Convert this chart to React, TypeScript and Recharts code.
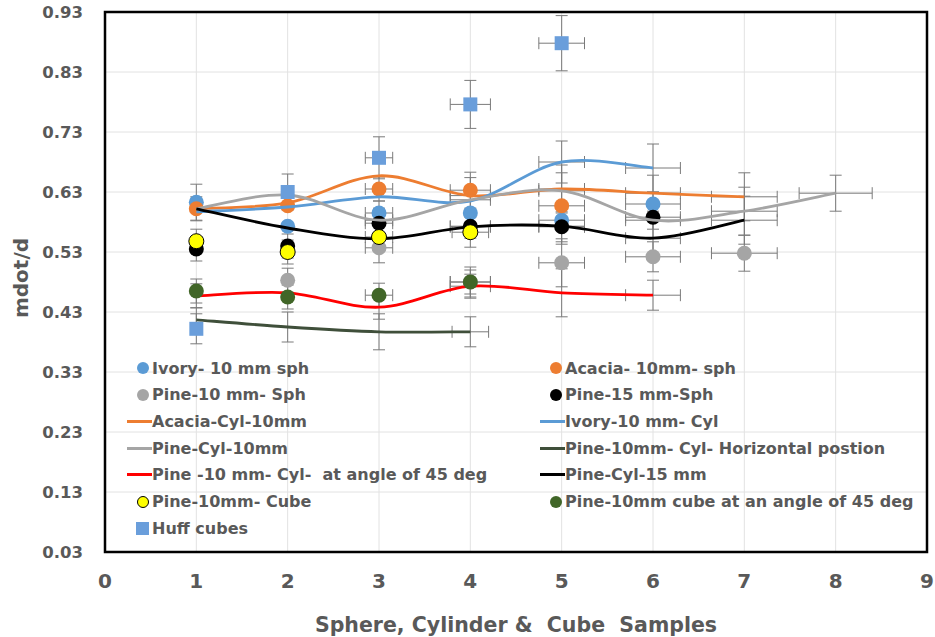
import React from 'react';
import {
  ScatterChart,
  Scatter,
  XAxis,
  YAxis,
  CartesianGrid,
  ErrorBar,
  Legend,
  ReferenceArea,
  Label,
} from 'recharts';

// ---------- axis ticks ----------
const xTicks = [0, 1, 2, 3, 4, 5, 6, 7, 8, 9];
const yTicks = [0.03, 0.13, 0.23, 0.33, 0.43, 0.53, 0.63, 0.73, 0.83, 0.93];

// ---------- marker (point) series ----------
const ivorySphX = [1, 2, 3, 4, 5, 6];
const ivorySphY = [0.613, 0.573, 0.595, 0.595, 0.583, 0.61];
const ivorySphEx = [0, 0, 0.15, 0, 0.25, 0.3];
const ivorySphEy = [0.03, 0, 0.02, 0, 0, 0.02];

const acaciaSphX = [1, 2, 3, 4, 5];
const acaciaSphY = [0.602, 0.607, 0.635, 0.633, 0.607];
const acaciaSphEx = [0, 0, 0.15, 0.22, 0.25];
const acaciaSphEy = [0.02, 0, 0.02, 0.03, 0];

const pine10SphX = [2, 3, 4, 5, 6, 7];
const pine10SphY = [0.483, 0.537, 0.48, 0.512, 0.522, 0.528];
const pine10SphEx = [0, 0.15, 0.22, 0.25, 0.3, 0.36];
const pine10SphEy = [0.02, 0.025, 0.02, 0.04, 0.025, 0.03];

const pine15SphX = [1, 2, 3, 4, 5, 6];
const pine15SphY = [0.535, 0.54, 0.578, 0.573, 0.572, 0.588];
const pine15SphEx = [0, 0, 0.15, 0.22, 0.25, 0.3];
const pine15SphEy = [0.02, 0.02, 0.02, 0.02, 0.025, 0.02];

const pineCubeX = [1, 2, 3, 4];
const pineCubeY = [0.548, 0.53, 0.555, 0.563];
const pineCubeEx = [0, 0, 0.15, 0.2];
const pineCubeEy = [0.02, 0.02, 0.02, 0.025];

const pineCube45X = [1, 2, 3, 4];
const pineCube45Y = [0.465, 0.455, 0.458, 0.48];
const pineCube45Ex = [0, 0, 0.15, 0.22];
const pineCube45Ey = [0.02, 0.02, 0.02, 0.025];

const huffX = [1, 2, 3, 4, 5];
const huffY = [0.402, 0.63, 0.687, 0.776, 0.878];
const huffEx = [0, 0, 0.15, 0.22, 0.25];
const huffEy = [0.025, 0.03, 0.035, 0.04, 0.046];

// ---------- smoothed line series ----------
const acaciaCylX = [1, 2, 3, 4, 5, 6, 7];
const acaciaCylY = [0.602, 0.612, 0.657, 0.624, 0.635, 0.628, 0.622];
const acaciaCylEx = [0, 0, 0, 0.22, 0.25, 0.3, 0.36];
const acaciaCylEy = [0, 0, 0, 0.03, 0.04, 0.03, 0.04];

const ivoryCylX = [1, 2, 3, 4, 5, 6];
const ivoryCylY = [0.597, 0.605, 0.622, 0.615, 0.68, 0.67];
const ivoryCylEx = [0, 0, 0, 0, 0.25, 0.3];
const ivoryCylEy = [0, 0, 0, 0, 0.035, 0.04];

const pineCyl10X = [1, 2, 3, 4, 5, 6, 7, 8];
const pineCyl10Y = [0.602, 0.625, 0.583, 0.617, 0.632, 0.583, 0.598, 0.628];
const pineCyl10Ex = [0, 0, 0.15, 0.22, 0.25, 0.3, 0.36, 0.4];
const pineCyl10Ey = [0, 0, 0.02, 0, 0.03, 0.03, 0.04, 0.03];

const pineHorizX = [1, 2, 3, 4];
const pineHorizY = [0.417, 0.405, 0.397, 0.397];
const pineHorizEx = [0, 0, 0, 0.2];
const pineHorizEy = [0.02, 0.025, 0.03, 0.025];

const pineCyl45X = [1, 2, 3, 4, 5, 6];
const pineCyl45Y = [0.457, 0.462, 0.438, 0.473, 0.462, 0.458];
const pineCyl45Ex = [0, 0, 0, 0.22, 0, 0.3];
const pineCyl45Ey = [0.02, 0, 0.02, 0.02, 0.04, 0.025];

const pineCyl15X = [1, 2, 3, 4, 5, 6, 7];
const pineCyl15Y = [0.602, 0.57, 0.552, 0.572, 0.573, 0.553, 0.583];
const pineCyl15Ex = [0, 0, 0, 0.22, 0.25, 0.3, 0.36];
const pineCyl15Ey = [0, 0, 0, 0, 0.03, 0.03, 0.04];

// ---------- helpers ----------
type Pt = { x: number; y: number; ex: number; ey: number };
const zip = (xs: number[], ys: number[], ex: number[], ey: number[]): Pt[] =>
  xs.map((x, i) => ({ x, y: ys[i], ex: ex[i], ey: ey[i] }));

// Excel-like smoothing (Catmull-Rom as cubic Bezier)
const excelCurve: any = (context: any) => {
  let pts: number[][] = [];
  return {
    areaStart() {},
    areaEnd() {},
    lineStart() {
      pts = [];
    },
    point(x: number, y: number) {
      pts.push([+x, +y]);
    },
    lineEnd() {
      const n = pts.length;
      if (n === 0) return;
      context.moveTo(pts[0][0], pts[0][1]);
      for (let i = 0; i < n - 1; i++) {
        const p0 = pts[Math.max(0, i - 1)];
        const p1 = pts[i];
        const p2 = pts[i + 1];
        const p3 = pts[Math.min(n - 1, i + 2)];
        context.bezierCurveTo(
          p1[0] + (p2[0] - p0[0]) / 6,
          p1[1] + (p2[1] - p0[1]) / 6,
          p2[0] - (p3[0] - p1[0]) / 6,
          p2[1] - (p3[1] - p1[1]) / 6,
          p2[0],
          p2[1]
        );
      }
    },
  };
};

type Series = {
  name: string;
  kind: 'circle' | 'square' | 'line';
  color: string;
  stroke?: string;
  data: Pt[];
};

const series: Series[] = [
  { name: 'Ivory- 10 mm sph', kind: 'circle', color: '#5B9BD5', data: zip(ivorySphX, ivorySphY, ivorySphEx, ivorySphEy) },
  { name: 'Acacia- 10mm- sph', kind: 'circle', color: '#ED7D31', data: zip(acaciaSphX, acaciaSphY, acaciaSphEx, acaciaSphEy) },
  { name: 'Pine-10 mm- Sph', kind: 'circle', color: '#A5A5A5', data: zip(pine10SphX, pine10SphY, pine10SphEx, pine10SphEy) },
  { name: 'Pine-15 mm-Sph', kind: 'circle', color: '#000000', data: zip(pine15SphX, pine15SphY, pine15SphEx, pine15SphEy) },
  { name: 'Acacia-Cyl-10mm', kind: 'line', color: '#ED7D31', data: zip(acaciaCylX, acaciaCylY, acaciaCylEx, acaciaCylEy) },
  { name: 'Ivory-10 mm- Cyl', kind: 'line', color: '#5B9BD5', data: zip(ivoryCylX, ivoryCylY, ivoryCylEx, ivoryCylEy) },
  { name: 'Pine-Cyl-10mm', kind: 'line', color: '#A5A5A5', data: zip(pineCyl10X, pineCyl10Y, pineCyl10Ex, pineCyl10Ey) },
  { name: 'Pine-10mm- Cyl- Horizontal postion', kind: 'line', color: '#3F4F3A', data: zip(pineHorizX, pineHorizY, pineHorizEx, pineHorizEy) },
  { name: 'Pine -10 mm- Cyl-  at angle of 45 deg', kind: 'line', color: '#FF0000', data: zip(pineCyl45X, pineCyl45Y, pineCyl45Ex, pineCyl45Ey) },
  { name: 'Pine-Cyl-15 mm', kind: 'line', color: '#000000', data: zip(pineCyl15X, pineCyl15Y, pineCyl15Ex, pineCyl15Ey) },
  { name: 'Pine-10mm- Cube', kind: 'circle', color: '#FFFF00', stroke: '#000000', data: zip(pineCubeX, pineCubeY, pineCubeEx, pineCubeEy) },
  { name: 'Pine-10mm cube at an angle of 45 deg', kind: 'circle', color: '#416628', data: zip(pineCube45X, pineCube45Y, pineCube45Ex, pineCube45Ey) },
  { name: 'Huff cubes', kind: 'square', color: '#6A9EDB', data: zip(huffX, huffY, huffEx, huffEy) },
];

const FONT = "'DejaVu Sans', sans-serif";
const TEXT = '#595959';
const ERR = '#7A7A7A';

const makeShape = (s: Series) => {
  if (s.kind === 'line') return () => <g />;
  if (s.kind === 'square')
    return (p: any) => <rect x={p.cx - 7} y={p.cy - 7} width={14} height={14} fill={s.color} />;
  return (p: any) => (
    <circle cx={p.cx} cy={p.cy} r={7.5} fill={s.color} stroke={s.stroke || 'none'} strokeWidth={1} />
  );
};

const LegendMarker = ({ s }: { s: Series }) => {
  let m: React.ReactNode;
  if (s.kind === 'line') {
    m = <div style={{ width: 25, height: 3, background: s.color }} />;
  } else if (s.kind === 'square') {
    m = <div style={{ width: 13, height: 13, background: s.color }} />;
  } else {
    m = (
      <div
        style={{
          width: 12,
          height: 12,
          borderRadius: '50%',
          background: s.color,
          boxSizing: 'border-box',
          border: s.stroke ? `1px solid ${s.stroke}` : 'none',
        }}
      />
    );
  }
  return (
    <div style={{ width: 25, display: 'flex', justifyContent: s.kind === 'line' ? 'flex-start' : 'flex-end', paddingRight: s.kind === 'line' ? 0 : 3, boxSizing: 'border-box' }}>
      {m}
    </div>
  );
};

const CustomLegend = () => (
  <div
    style={{
      display: 'grid',
      gridTemplateColumns: '413px auto',
      gridAutoRows: '26.67px',
      fontFamily: FONT,
      fontWeight: 700,
      fontSize: 16,
      color: TEXT,
    }}
  >
    {series.map((s) => (
      <div key={s.name} style={{ display: 'flex', alignItems: 'center', whiteSpace: 'pre' }}>
        <LegendMarker s={s} />
        <span>{s.name}</span>
      </div>
    ))}
  </div>
);

const YTitle = () => (
  <text
    transform="translate(28,278) rotate(-90)"
    textAnchor="middle"
    fill={TEXT}
    style={{ fontFamily: FONT, fontWeight: 700, fontSize: 20 }}
  >
    mdot/d
  </text>
);

export default function App() {
  return (
    <div style={{ width: 935, height: 637, position: 'relative', background: '#fff' }}>
      <style>{'body{margin:0;background:#fff}'}</style>
      <ScatterChart width={935} height={637} margin={{ top: 12, right: 8, bottom: 0, left: 0 }}>
        <CartesianGrid stroke="#E2E2E2" strokeWidth={1} />
        <XAxis
          type="number"
          dataKey="x"
          domain={[0, 9]}
          ticks={xTicks}
          interval={0}
          allowDataOverflow
          axisLine={false}
          tickLine={false}
          tickSize={0}
          tickMargin={22}
          height={85}
          tick={{ fill: TEXT, fontSize: 20, fontWeight: 700, fontFamily: FONT }}
        >
          <Label
            value={'Sphere, Cylinder &\u00A0 Cube\u00A0 Samples'}
            position="insideBottom"
            offset={5}
            style={{ fill: TEXT, fontSize: 20.5, fontWeight: 700, fontFamily: FONT }}
          />
        </XAxis>
        <YAxis
          type="number"
          dataKey="y"
          domain={[0.03, 0.93]}
          ticks={yTicks}
          interval={0}
          allowDataOverflow
          axisLine={false}
          tickLine={false}
          tickSize={0}
          tickMargin={22}
          width={105}
          tickFormatter={(v: number) => v.toFixed(2)}
          tick={{ fill: TEXT, fontSize: 16.5, fontWeight: 700, fontFamily: FONT }}
        >
          <Label content={() => <YTitle />} />
        </YAxis>
        <ReferenceArea
          x1={0}
          x2={9}
          y1={0.03}
          y2={0.93}
          fill="none"
          fillOpacity={0}
          stroke="#000"
          strokeWidth={2.5}
          ifOverflow="visible"
        />
        {series.map((s) => (
          <Scatter
            key={s.name}
            name={s.name}
            data={s.data}
            fill={s.color}
            isAnimationActive={false}
            shape={makeShape(s)}
            legendType={s.kind === 'line' ? 'line' : s.kind === 'square' ? 'square' : 'circle'}
            line={s.kind === 'line' ? { stroke: s.color, strokeWidth: 2.8 } : false}
            lineJointType={excelCurve}
          >
            <ErrorBar dataKey="ey" direction="y" width={6} stroke={ERR} strokeWidth={1} />
            <ErrorBar dataKey="ex" direction="x" width={6} stroke={ERR} strokeWidth={1} />
          </Scatter>
        ))}
        <Legend
          layout="vertical"
          align="center"
          verticalAlign="middle"
          wrapperStyle={{ left: 127, top: 355, width: 800, height: 190, pointerEvents: 'none' }}
          content={() => <CustomLegend />}
        />
      </ScatterChart>
    </div>
  );
}
